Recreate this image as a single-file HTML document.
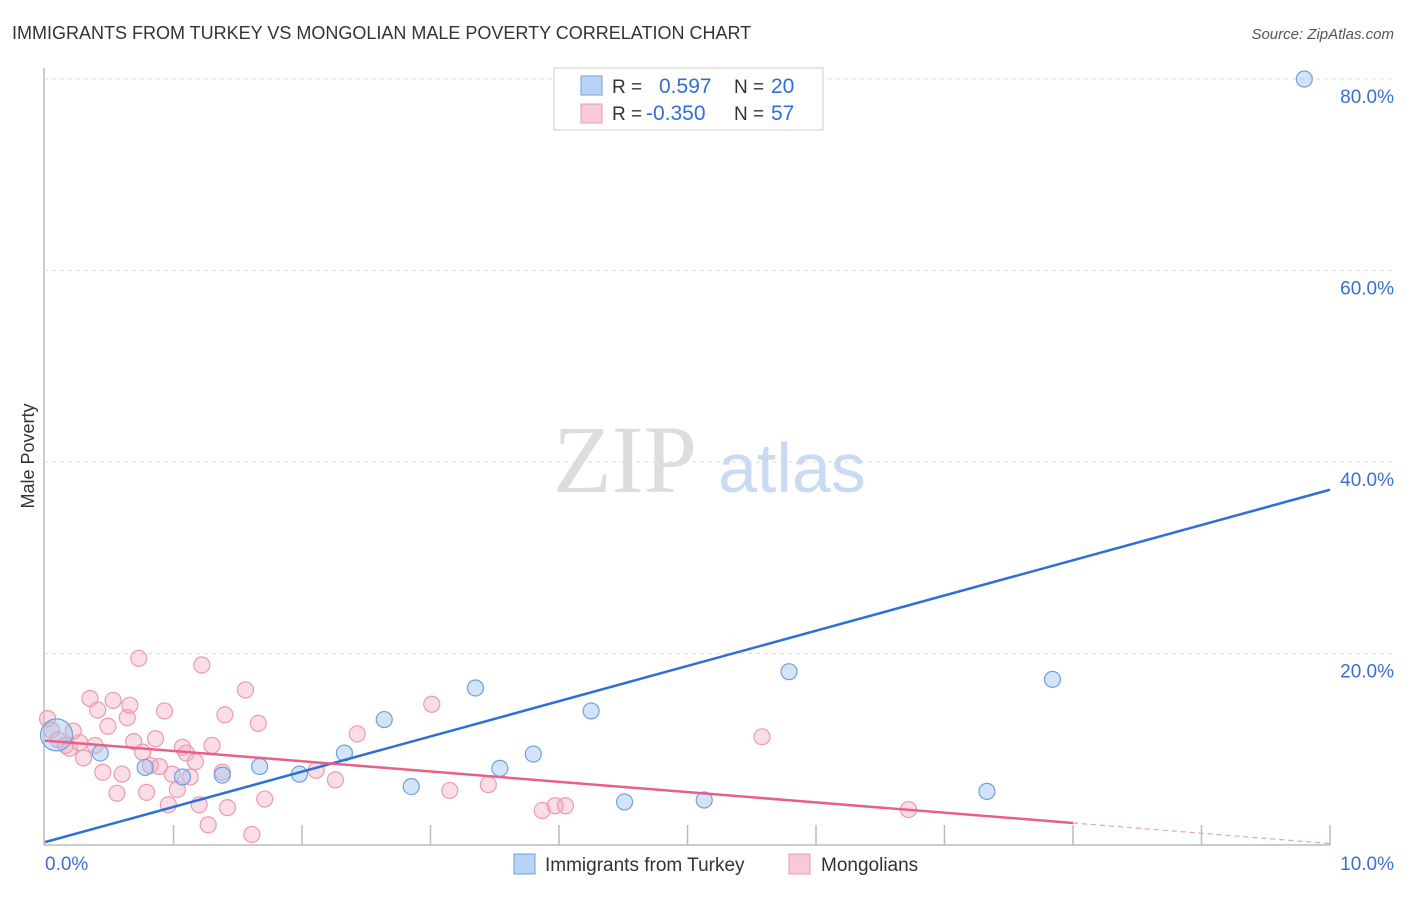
<!DOCTYPE html>
<html><head><meta charset="utf-8"><style>
body{margin:0;background:#fff;font-family:"Liberation Sans",sans-serif}
</style></head><body>
<svg id="chart" width="1406" height="892" font-family="Liberation Sans, sans-serif">
<text x="12" y="39" font-size="18" fill="#333">IMMIGRANTS FROM TURKEY VS MONGOLIAN MALE POVERTY CORRELATION CHART</text>
<text x="1394" y="39" font-size="15" fill="#555" font-style="italic" text-anchor="end">Source: ZipAtlas.com</text>
<text x="34" y="456" font-size="18" fill="#333" transform="rotate(-90 34 456)" text-anchor="middle">Male Poverty</text>
<g id="grid"></g>
<text x="553" y="492" font-size="96" fill="#ddd" style="font-family:'Liberation Serif',serif">ZIP</text>
<text x="718" y="492" font-size="70" fill="#c9dbf2">atlas</text>
<g id="pts"></g>
<g id="lines"></g>
<g>
<rect x="554" y="68" width="269" height="62" fill="#fff" stroke="#ccc"/>
<rect x="581" y="76" width="21" height="19" fill="#b8d3f5" stroke="#6fa0e0"/>
<rect x="581" y="104" width="21" height="19" fill="#f9c9d6" stroke="#ec9ab0"/>
<text x="612" y="93" font-size="19" fill="#333">R =</text><text x="659" y="93" font-size="21" fill="#2f6fd6">0.597</text>
<text x="734" y="93" font-size="19" fill="#333">N =</text><text x="771" y="93" font-size="21" fill="#2f6fd6">20</text>
<text x="612" y="120" font-size="19" fill="#333">R =</text><text x="646" y="120" font-size="21" fill="#2f6fd6">-0.350</text>
<text x="734" y="120" font-size="19" fill="#333">N =</text><text x="771" y="120" font-size="21" fill="#2f6fd6">57</text>
</g>
<g>
<rect x="514" y="854" width="21" height="20" fill="#b8d3f5" stroke="#6fa0e0"/>
<text x="545" y="871" font-size="19" fill="#333">Immigrants from Turkey</text>
<rect x="789" y="854" width="21" height="20" fill="#f9c9d6" stroke="#ec9ab0"/>
<text x="821" y="871" font-size="19" fill="#333">Mongolians</text>
</g>
<text x="45" y="870" font-size="19" fill="#3a6fcf">0.0%</text>
<text x="1394" y="870" font-size="19" fill="#3a6fcf" text-anchor="end">10.0%</text>
</svg>
<script>
const yTicks=[20,40,60,80];
const blueX=[9.8,0.09,0.43,0.78,1.07,1.38,1.67,1.98,2.33,2.64,2.85,3.35,3.54,3.8,4.25,4.51,5.13,5.79,7.33,7.84];
const blueY=[80,11.5,9.6,8.1,7.1,7.3,8.2,7.4,9.6,13.1,6.1,16.4,8.0,9.5,14.0,4.5,4.7,18.1,5.6,17.3];
const pinkX=[0.02,0.05,0.1,0.16,0.19,0.22,0.27,0.3,0.35,0.39,0.41,0.45,0.49,0.53,0.56,0.6,0.64,0.66,0.69,0.73,0.76,0.79,0.82,0.86,0.89,0.93,0.96,0.99,1.03,1.07,1.1,1.13,1.17,1.2,1.22,1.27,1.3,1.4,1.38,1.42,1.61,1.56,1.66,1.71,2.11,2.26,2.43,3.01,3.15,3.45,3.87,3.97,4.05,5.58,6.72];
const pinkY=[13.2,12.0,11.0,10.4,10.1,11.9,10.7,9.1,15.3,10.4,14.1,7.6,12.4,15.1,5.4,7.4,13.3,14.6,10.8,19.5,9.7,5.5,8.3,11.1,8.2,14.0,4.2,7.4,5.8,10.2,9.6,7.1,8.7,4.2,18.8,2.1,10.4,13.6,7.6,3.9,1.1,16.2,12.7,4.8,7.8,6.8,11.6,14.7,5.7,6.3,3.6,4.1,4.1,11.3,3.7];
const X=v=>45+v*128.5, Y=v=>845-v*9.575;
const NS='http://www.w3.org/2000/svg';
function mk(t,a,p){const e=document.createElementNS(NS,t);for(const k in a)e.setAttribute(k,a[k]);p.appendChild(e);return e;}
const g=document.getElementById('grid');
mk('line',{x1:44,y1:68,x2:44,y2:845,stroke:'#bbb','stroke-width':1.5},g);
mk('line',{x1:44,y1:845,x2:1330,y2:845,stroke:'#bbb','stroke-width':1.5},g);
for(const t of yTicks){
 const l=mk('line',{x1:44,y1:Y(t),x2:1394,y2:Y(t),stroke:'#ddd','stroke-dasharray':'4,4'},g);
 
 
 const tx=mk('text',{x:1394,y:Y(t)+24,'font-size':19,fill:'#3a6fcf','text-anchor':'end'},g);
 tx.textContent=t.toFixed(1)+'%';
 
 
}
for(let i=1;i<=10;i++){
 const l=mk('line',{x1:X(i),y1:825,x2:X(i),y2:845,stroke:'#bbb','stroke-width':1.5},g);
 
 
}
const p=document.getElementById('pts');
pinkX.forEach((x,i)=>{
 const c=mk('circle',{cx:X(x),cy:Y(pinkY[i]),r:8,fill:'rgba(246,170,192,0.4)',stroke:'#ec9ab0','stroke-width':1.2},p);
 
 
});
blueX.forEach((x,i)=>{
 const c=mk('circle',{cx:X(x),cy:Y(blueY[i]),r:i==1?16:8,fill:'rgba(160,196,240,0.45)',stroke:'#6fa0e0','stroke-width':1.2},p);
 
 
});
const ln=document.getElementById('lines');
const bl=mk('line',{x1:X(0),y1:Y(0.3),x2:X(10),y2:Y(37.1),stroke:'#2f6fd6','stroke-width':2.5},ln);


const pl=mk('line',{x1:X(0),y1:Y(10.9),x2:X(8),y2:Y(2.3),stroke:'#e8608a','stroke-width':2.5},ln);


const pd=mk('line',{x1:X(8),y1:Y(2.3),x2:X(10),y2:Y(0.15),stroke:'#e8a0b6','stroke-width':1.2,'stroke-dasharray':'5,4'},ln);


</script>
</body></html>
